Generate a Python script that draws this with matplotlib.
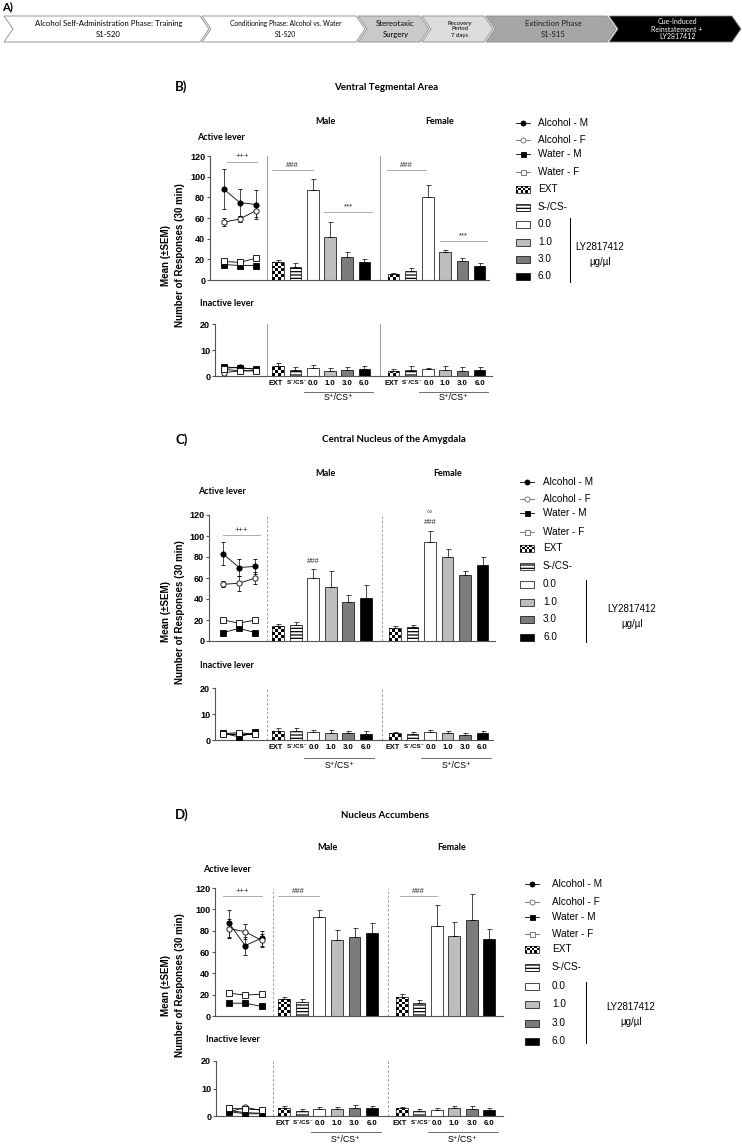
import numpy as np
import matplotlib.pyplot as plt
from matplotlib.patches import Polygon, Rectangle
from matplotlib.collections import PatchCollection
from matplotlib.lines import Line2D
from matplotlib.transforms import blended_transform_factory

plt.rcParams['font.family'] = ['Liberation Sans', 'DejaVu Sans']
plt.rcParams['hatch.linewidth'] = 0.9
CAL = ['Lato', 'DejaVu Sans']

W, H = 742, 1145

# ---------------- data ----------------
stages = ['Alcohol Self-Administration Phase: Training\nS1-S20',
          'Conditioning Phase: Alcohol vs. Water\nS1-S20',
          'Stereotaxic\nSurgery',
          'Recovery\nPeriod\n7 days',
          'Extinction Phase\nS1-S15',
          'Cue-Induced\nReinstatement +\nLY2817412']

line_groups = ['Alcohol - M', 'Alcohol - F', 'Water - M', 'Water - F']
bar_labels = ['EXT', 'S\u207b/CS\u207b', '0.0', '1.0', '3.0', '6.0']
legend_bar_labels = ['EXT', 'S-/CS-', '0.0', '1.0', '3.0', '6.0']

# B) Ventral Tegmental Area
vta_act_lines = [[88, 75, 73], [56, 59, 67], [15, 14, 14], [18, 17, 21]]
vta_act_lines_sem = [[19, 13, 14], [4, 3, 6], [1, 1, 1.5], [1.5, 1, 1.5]]
vta_act_male = [17, 13, 87, 42, 22, 17]
vta_act_male_sem = [2, 3, 11, 14, 5, 3]
vta_act_female = [6, 9, 80, 27, 18, 14]
vta_act_female_sem = [1, 3, 12, 2, 3, 2]
vta_inact_lines = [[3.0, 3.3, 2.5], [1.3, 2.0, 2.0], [3.6, 3.0, 2.8], [2.6, 2.0, 2.0]]
vta_inact_lines_sem = [[0.5, 0.5, 0.4], [0.4, 0.4, 0.4], [0.4, 0.4, 0.4], [0.5, 0.4, 0.4]]
vta_inact_male = [4.0, 2.3, 3.2, 2.0, 2.3, 2.8]
vta_inact_male_sem = [1.0, 1.2, 1.0, 0.9, 1.2, 0.9]
vta_inact_female = [1.8, 2.5, 2.7, 2.5, 2.0, 2.3]
vta_inact_female_sem = [0.8, 1.2, 0.5, 1.2, 1.3, 1.0]

# C) Central Nucleus of the Amygdala
cea_act_lines = [[83, 70, 71], [54, 55, 60], [8, 12, 8], [20, 17, 20]]
cea_act_lines_sem = [[11, 8, 7], [3, 7, 6], [1, 1.5, 1], [1, 1, 1]]
cea_act_male = [14, 15, 60, 51, 37, 41]
cea_act_male_sem = [2, 3, 9, 16, 6.5, 12]
cea_act_female = [12.5, 13, 94, 80, 63, 72]
cea_act_female_sem = [2, 2, 11, 8, 4, 8]
cea_inact_lines = [[2.5, 2.5, 2.5], [2.3, 2.2, 2.2], [2.6, 1.2, 3.0], [2.5, 2.8, 2.2]]
cea_inact_lines_sem = [[0.4, 0.4, 0.4], [0.4, 0.4, 0.4], [0.4, 0.4, 0.4], [0.4, 0.4, 0.4]]
cea_inact_male = [3.5, 3.5, 3.0, 2.8, 2.8, 2.5]
cea_inact_male_sem = [1.2, 1.0, 1.0, 1.0, 0.7, 1.0]
cea_inact_female = [2.8, 2.2, 3.0, 2.8, 2.0, 2.8]
cea_inact_female_sem = [0.4, 0.8, 1.0, 0.8, 0.6, 0.8]

# D) Nucleus Accumbens
nac_act_lines = [[87, 66, 73], [82, 79, 71], [12, 12, 9], [21.5, 19.5, 20.5]]
nac_act_lines_sem = [[12.5, 8.5, 7], [9, 7, 6], [1, 1, 1], [1, 1, 1]]
nac_act_male = [15.5, 13, 92.5, 71, 74, 77.5]
nac_act_male_sem = [2, 3, 7, 9.5, 8.5, 9.5]
nac_act_female = [18, 12.5, 84, 75, 90, 72]
nac_act_female_sem = [2.3, 2.5, 20, 13.5, 24.5, 10]
nac_inact_lines = [[2.0, 1.2, 1.0], [1.5, 3.2, 2.0], [1.6, 0.8, 0.8], [2.8, 2.5, 2.3]]
nac_inact_lines_sem = [[0.4, 0.4, 0.4], [0.4, 0.4, 0.4], [0.4, 0.4, 0.4], [0.4, 0.4, 0.4]]
nac_inact_male = [3.0, 1.8, 2.5, 2.5, 3.0, 2.8]
nac_inact_male_sem = [0.8, 0.8, 0.6, 0.7, 0.9, 1.0]
nac_inact_female = [2.8, 2.0, 2.2, 2.8, 2.7, 2.2]
nac_inact_female_sem = [0.3, 0.6, 0.8, 1.0, 1.0, 0.8]

# significance marks: text, group, from, to, y, draw line
vta_sig = [('+++', 'line', 0.99, 2.72, 114.5, True), ('###', 'male', -0.36, 2.0, 106, True),
           ('***', 'male', 2.65, 5.44, 66, True), ('###', 'female', -0.37, 1.89, 106, True),
           ('***', 'female', 2.7, 5.43, 38, True)]
cea_sig = [('+++', 'line', 0.8, 2.91, 101, True), ('###', 'male', 2.0, 2.0, 72, False),
           ('###', 'female', 2.0, 2.0, 110, False), ('\u00b0\u00b0', 'female', 2.0, 2.0, 116.5, False)]
nac_sig = [('+++', 'line', 0.46, 2.68, 112.5, True), ('###', 'male', -0.36, 1.98, 112.5, True),
           ('###', 'female', -0.1, 2.0, 112.5, True)]

# ---------------- styles / layout ----------------
bar_colors = ['white', 'white', 'white', '#bdbdbd', '#7c7c7c', 'black']
bar_hatch = [None, '-----', None, None, None, None]
line_marker = ['o', 'o', 's', 's']
line_face = ['black', 'white', 'black', 'white']
BAR_W = 0.68
label_size = [5.3, 4.4, 5.6, 5.6, 5.6, 5.6]
label_shift = [-0.12, 0.1, 0.05, 0, 0, 0]

line_x = np.array([0.8, 1.72, 2.65])
male_x = 3.95 + np.arange(6)
female_x = 10.63 + np.arange(6)
sep_x = [3.3, 9.88]
group_base = {'line': 0.0, 'male': 3.95, 'female': 10.63}

panels = [
    dict(tag='B)', title='Ventral Tegmental Area', tag_y=87, title_x=386, sex_y=121, male_lx=325, female_lx=440,
         act_txt=(197, 138), inact_txt=(200, 303), spine=210, step=17.25, right=489, act_y=(156, 280),
         in_spine=215, in_right=492, in_y=(324, 376), ylab_y=255, dashed=False, brk_y=392, brk_txt=398,
         leg_x=523, leg_tx=538, leg_y=[123, 140, 154, 172, 189, 207, 224, 242, 259, 276],
         vline=(570, 218, 282), ly_x=600, ly_y=247),
    dict(tag='C)', title='Central Nucleus of the Amygdala', tag_y=440, title_x=394, sex_y=474, male_lx=325,
         female_lx=448, act_txt=(198, 492), inact_txt=(200, 665), spine=209, step=17.5, right=495,
         act_y=(515, 641), in_spine=215, in_right=493, in_y=(688, 740), ylab_y=612, dashed=True, brk_y=758,
         brk_txt=766, leg_x=527, leg_tx=543, leg_y=[482, 499, 513, 532, 548, 566, 584, 602, 619, 637],
         vline=(586, 580, 642), ly_x=632, ly_y=609),
    dict(tag='D)', title='Nucleus Accumbens', tag_y=815, title_x=385, sex_y=847, male_lx=327, female_lx=452,
         act_txt=(203, 869), inact_txt=(206, 1040), spine=215, step=17.55, right=503, act_y=(888, 1016),
         in_spine=216, in_right=503, in_y=(1061, 1116), ylab_y=985, dashed=True, brk_y=1132, brk_txt=1139,
         leg_x=532, leg_tx=552, leg_y=[884, 902, 917, 934, 949, 967, 986, 1004, 1023, 1041],
         vline=(586, 982, 1043), ly_x=631, ly_y=1007),
]

fig = plt.figure(figsize=(W / 100, H / 100), dpi=100)
bg = fig.add_axes([0, 0, 1, 1])
bg.set_xlim(0, W)
bg.set_ylim(H, 0)
bg.axis('off')

# ---------------- A) timeline ----------------
bg.text(2, 7, 'A)', fontsize=8, fontweight='bold', family=CAL, va='center', ha='left')
stage_ends = [4, 209, 365, 429, 493, 616, 741]
stage_fc = ['white', 'white', '#c9c9c9', '#dddddd', '#a6a6a6', 'black']
stage_tc = ['black', 'black', 'black', 'black', '#1a1a1a', 'white']
stage_fs = [5.6, 4.8, 5.6, 4.3, 5.6, 5.0]
stage_ls = [1.7, 1.8, 1.5, 1.25, 1.8, 1.15]
d, g, top, bot = 9, 2, 16, 42
mid = (top + bot) / 2
for i, txt in enumerate(stages):
    x0 = stage_ends[i] if i == 0 else stage_ends[i] - d + g
    x1 = stage_ends[i + 1]
    pts = [(x0, top), (x1 - d, top), (x1, mid), (x1 - d, bot), (x0, bot), (x0 + d, mid)]
    bg.add_patch(Polygon(pts, closed=True, fc=stage_fc[i], ec='#8a8a8a', lw=0.6))
    bg.text((x0 + x1) / 2 + 2, mid, txt, ha='center', va='center', fontsize=stage_fs[i],
            color=stage_tc[i], family=CAL, linespacing=stage_ls[i])


def px_axes(left, right, y_top, y_bot):
    return fig.add_axes([left / W, 1 - y_bot / H, (right - left) / W, (y_bot - y_top) / H])


def checker(target, x_left, y_bottom, width, height, cell_h, ncol=4, **kw):
    # black/white checkerboard fill for the EXT bars
    cw = width / ncol
    nrow = int(np.ceil(height / cell_h - 1e-6))
    rects = []
    for r in range(nrow):
        y0 = r * cell_h
        hh = min(cell_h, height - y0)
        for c in range(ncol):
            if (r + c) % 2 == 0:
                rects.append(Rectangle((x_left + c * cw, y_bottom + y0), cw, hh))
    target.add_collection(PatchCollection(rects, facecolor='black', edgecolor='none', **kw))


def style_axis(ax, yticks):
    for s in ['top', 'right']:
        ax.spines[s].set_visible(False)
    for s in ['left', 'bottom']:
        ax.spines[s].set_color('#555555')
        ax.spines[s].set_linewidth(0.8)
    ax.set_facecolor('none')
    ax.set_yticks(yticks)
    ax.tick_params(axis='y', length=2.5, width=0.8, color='#555555', labelsize=6.5, pad=1)
    for t in ax.get_yticklabels():
        t.set_fontweight('bold')


def draw_lever(ax, ymax, px_per_unit, lines, lines_sem, male, male_sem, female, female_sem, dashed):
    ax.set_ylim(0, ymax)
    for k in range(4):
        ax.errorbar(line_x, lines[k], yerr=lines_sem[k], color='black', lw=0.6,
                    marker=line_marker[k], mfc=line_face[k], mec='black', mew=0.6, ms=3.8,
                    elinewidth=0.5, capsize=1.5, capthick=0.5, zorder=3)
    for xs, vals, sem in [(male_x, male, male_sem), (female_x, female, female_sem)]:
        bars = ax.bar(xs, vals, width=BAR_W, color=bar_colors, edgecolor='black', linewidth=0.5, zorder=2)
        for b, h in zip(bars, bar_hatch):
            if h:
                b.set_hatch(h)
        checker(ax, xs[0] - BAR_W / 2, 0, BAR_W, vals[0], 2.9 / px_per_unit, zorder=2.1)
        ax.errorbar(xs, vals, yerr=[np.zeros(len(vals)), sem], fmt='none', ecolor='black',
                    elinewidth=0.5, capsize=1.8, capthick=0.5, zorder=2.5)
    for s in sep_x:
        ax.axvline(s, color='#9a9a9a', lw=0.7, ls=(0, (2.5, 2)) if dashed else '-', zorder=1)


panel_data = [
    (vta_act_lines, vta_act_lines_sem, vta_act_male, vta_act_male_sem, vta_act_female, vta_act_female_sem,
     vta_inact_lines, vta_inact_lines_sem, vta_inact_male, vta_inact_male_sem, vta_inact_female,
     vta_inact_female_sem, vta_sig),
    (cea_act_lines, cea_act_lines_sem, cea_act_male, cea_act_male_sem, cea_act_female, cea_act_female_sem,
     cea_inact_lines, cea_inact_lines_sem, cea_inact_male, cea_inact_male_sem, cea_inact_female,
     cea_inact_female_sem, cea_sig),
    (nac_act_lines, nac_act_lines_sem, nac_act_male, nac_act_male_sem, nac_act_female, nac_act_female_sem,
     nac_inact_lines, nac_inact_lines_sem, nac_inact_male, nac_inact_male_sem, nac_inact_female,
     nac_inact_female_sem, nac_sig),
]

for lay, dat in zip(panels, panel_data):
    (al, als, am, ams, af, afs, il, ils, im, ims, inf, infs, sig) = dat

    # headings
    bg.text(175, lay['tag_y'], lay['tag'], fontsize=9.5, fontweight='bold', family=CAL, va='center')
    bg.text(lay['title_x'], lay['tag_y'], lay['title'], fontsize=7, fontweight='bold', family=CAL,
            ha='center', va='center')
    bg.text(lay['male_lx'], lay['sex_y'], 'Male', fontsize=6.5, fontweight='bold', family=CAL,
            ha='center', va='center')
    bg.text(lay['female_lx'], lay['sex_y'], 'Female', fontsize=6.5, fontweight='bold', family=CAL,
            ha='center', va='center')
    bg.text(*lay['act_txt'], 'Active lever', fontsize=6.5, fontweight='bold', family=CAL, va='center')
    bg.text(*lay['inact_txt'], 'Inactive lever', fontsize=6.5, fontweight='bold', family=CAL, va='center')
    bg.text(173, lay['ylab_y'], 'Mean (\u00b1SEM)\nNumber of Responses (30 min)', rotation=90,
            fontsize=7, fontweight='bold', ha='center', va='center', linespacing=1.45)

    sp, st = lay['spine'], lay['step']
    # active lever
    a_top, a_bot = lay['act_y']
    ax = px_axes(sp, lay['right'], a_top, a_bot)
    draw_lever(ax, 120, (a_bot - a_top) / 120, al, als, am, ams, af, afs, lay['dashed'])
    ax.set_xlim(0, (lay['right'] - sp) / st)
    style_axis(ax, [0, 20, 40, 60, 80, 100, 120])
    ax.set_xticks([])
    for txt, grp, a, b, y, with_line in sig:
        base = group_base[grp]
        if with_line:
            ax.plot([base + a, base + b], [y, y], color='#a0a0a0', lw=0.6, zorder=1)
            ax.text(base + (a + b) / 2, y + 1.2, txt, fontsize=5.5, color='#222222', ha='center', va='bottom')
        else:
            ax.text(base + a, y, txt, fontsize=5.5, color='#222222', ha='center', va='bottom')

    # inactive lever
    i_top, i_bot = lay['in_y']
    ax2 = px_axes(lay['in_spine'], lay['in_right'], i_top, i_bot)
    draw_lever(ax2, 20, (i_bot - i_top) / 20, il, ils, im, ims, inf, infs, lay['dashed'])
    ax2.set_xlim((lay['in_spine'] - sp) / st, (lay['in_right'] - sp) / st)
    style_axis(ax2, [0, 10, 20])
    ax2.set_xticks(np.concatenate([male_x + label_shift, female_x + label_shift]))
    ax2.set_xticklabels(bar_labels * 2, fontweight='bold')
    for t, fs in zip(ax2.get_xticklabels(), label_size * 2):
        t.set_fontsize(fs)
    ax2.tick_params(axis='x', length=0, pad=3)
    tr = blended_transform_factory(ax2.transData, bg.transData)
    for xs in (male_x, female_x):
        bg.add_line(Line2D([xs[2] - 0.5, xs[5] + 0.5], [lay['brk_y'], lay['brk_y']], color='#555555',
                           lw=0.6, transform=tr))
        bg.text((xs[2] + xs[5]) / 2, lay['brk_txt'], 'S\u207a/CS\u207a', transform=tr, fontsize=6.3,
                ha='center', va='center')

    # legend
    mx, tx, ys = lay['leg_x'], lay['leg_tx'], lay['leg_y']
    for k in range(4):
        y = ys[k]
        col = 'black' if k % 2 == 0 else '#666666'
        bg.add_line(Line2D([mx - 7, mx + 7], [y, y], color=col, lw=0.6))
        bg.add_line(Line2D([mx], [y], marker=line_marker[k], ms=3.6, mfc=line_face[k], mec=col, mew=0.6))
        bg.text(tx, y, line_groups[k], fontsize=7.2, va='center')
    for j in range(6):
        y = ys[4 + j]
        bg.add_patch(Rectangle((mx - 7, y - 3.5), 14, 7, fc=bar_colors[j], ec='black', lw=0.5,
                               hatch=bar_hatch[j]))
        if j == 0:
            checker(bg, mx - 7, y - 3.5, 14, 7, 2.4, ncol=6)
        bg.text(tx, y, legend_bar_labels[j], fontsize=7.2, va='center')
    vx, vy0, vy1 = lay['vline']
    bg.plot([vx, vx], [vy0, vy1], color='black', lw=0.7)
    bg.text(lay['ly_x'], lay['ly_y'], 'LY2817412', fontsize=7, ha='center', va='center')
    bg.text(lay['ly_x'], lay['ly_y'] + 15, '\u00b5g/\u00b5l', fontsize=7, ha='center', va='center')

fig.savefig('out.png', dpi=100)
